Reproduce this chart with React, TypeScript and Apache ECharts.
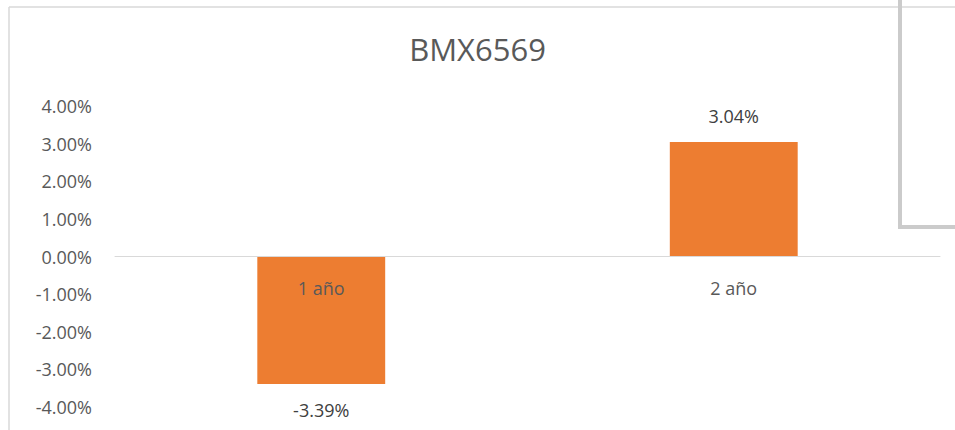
import React, { useEffect, useRef } from "react";
import * as echarts from "echarts";

const titleText = "BMX6569";
const categories = ["1 año", "2 año"];
const values = [-3.39, 3.04];
const yMin = -4;
const yMax = 4;
const yInterval = 1;

const GRID_TOP = 106;
const GRID_BOTTOM = 23;
const HEIGHT = 430;

export default function App() {
  const ref = useRef<HTMLDivElement>(null);
  useEffect(() => {
    if (!ref.current) return;
    const chart = echarts.init(ref.current, undefined, { renderer: "svg" });
    const font = "'Open Sans', sans-serif";
    const gridHeight = HEIGHT - GRID_TOP - GRID_BOTTOM;
    // zero sits at fraction (yMax-0)/(yMax-yMin) from top of grid
    const zeroFromBottom = (gridHeight * (0 - yMin)) / (yMax - yMin);
    chart.setOption({
      animation: false,
      backgroundColor: "#ffffff",
      title: {
        text: titleText,
        left: "center",
        top: 28,
        textStyle: { fontFamily: font, fontSize: 31, fontWeight: "normal", color: "#595959" },
      },
      grid: {
        left: 115,
        right: 15,
        top: GRID_TOP,
        bottom: GRID_BOTTOM,
        containLabel: false,
        outerBoundsMode: "none",
      },
      xAxis: {
        type: "category",
        data: categories,
        z: 10,
        position: "bottom",
        offset: -zeroFromBottom,
        axisLine: { onZero: false, lineStyle: { color: "#d9d9d9", width: 1 } },
        axisTick: { show: false },
        axisLabel: { margin: 22, fontFamily: font, fontSize: 18, color: "#595959" },
      },
      yAxis: {
        type: "value",
        min: yMin,
        max: yMax,
        interval: yInterval,
        axisLine: { show: false },
        axisTick: { show: false },
        splitLine: { show: false },
        axisLabel: {
          margin: 23,
          fontFamily: font,
          fontSize: 18,
          color: "#595959",
          formatter: (v: number) => v.toFixed(2) + "%",
        },
      },
      series: [
        {
          type: "bar",
          barWidth: "31%",
          itemStyle: { color: "#ED7D31" },
          data: values.map((v) => ({
            value: v,
            label: {
              show: true,
              position: v < 0 ? "bottom" : "top",
              distance: 17,
              fontFamily: font,
              fontSize: 18,
              color: "#404040",
              formatter: (p: any) => p.value.toFixed(2) + "%",
            },
          })),
        },
      ],
      graphic: [
        {
          type: "line",
          shape: { x1: 9, y1: 7, x2: 955, y2: 7 },
          style: { stroke: "#d9d9d9", lineWidth: 1.5 },
          z: 100,
        },
        {
          type: "line",
          shape: { x1: 9, y1: 7, x2: 9, y2: 430 },
          style: { stroke: "#d9d9d9", lineWidth: 1.5 },
          z: 100,
        },
        {
          type: "polyline",
          shape: { points: [[900, 0], [900, 227], [955, 227]] },
          style: { stroke: "#cbcbcb", lineWidth: 4, fill: null },
          z: 100,
        },
      ],
    });
    return () => chart.dispose();
  }, []);
  return (
    <div
      ref={ref}
      style={{ position: "fixed", left: 0, top: 0, width: 955, height: 430 }}
    />
  );
}
